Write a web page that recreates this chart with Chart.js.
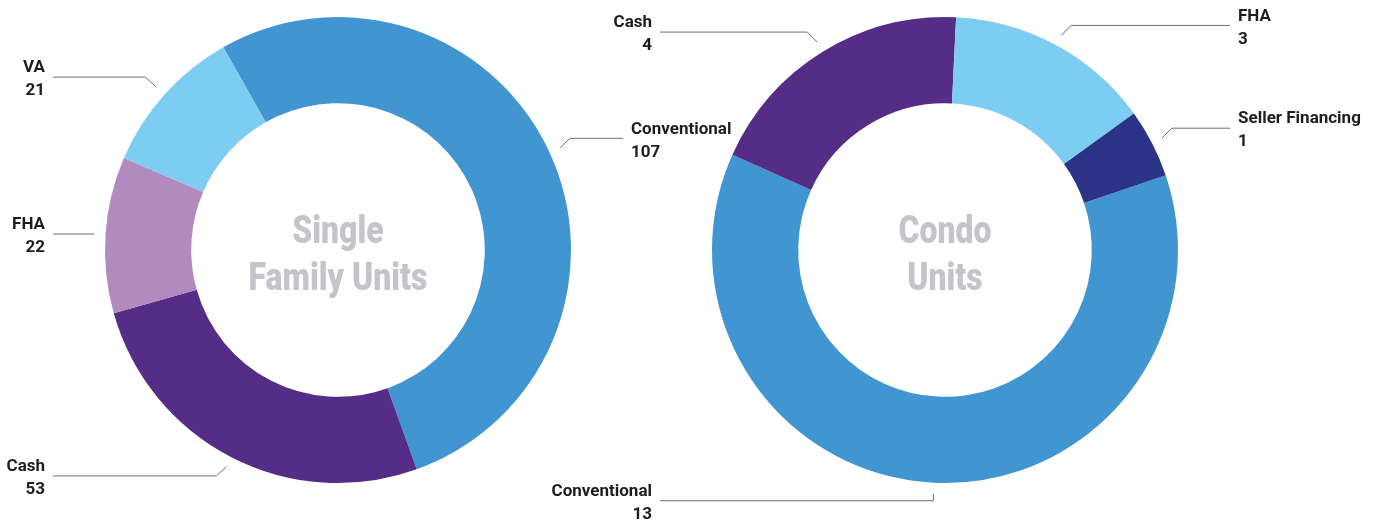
<!DOCTYPE html>
<html>
<head>
<meta charset="utf-8">
<script src="https://cdn.jsdelivr.net/npm/chart.js@4.4.1/dist/chart.umd.min.js"></script>
<style>
  html, body { margin: 0; padding: 0; background: #fff; }
  #wrap { position: relative; width: 1379px; height: 525px; }
  #wrap canvas { position: absolute; left: 0; top: 0; }
</style>
</head>
<body>
<div id="wrap">
  <canvas id="sfChart" width="1379" height="525"></canvas>
  <canvas id="condoChart" width="1379" height="525"></canvas>
</div>
<script>
// data
const sfLabels    = ['Conventional', 'Cash', 'FHA', 'VA'];
const sfValues    = [107, 53, 22, 21];
const condoLabels = ['Conventional', 'Cash', 'FHA', 'Seller Financing'];
const condoValues = [13, 4, 3, 1];

// colours
const sfColors    = ['#4196d2', '#552d87', '#b38abe', '#7dcdf2'];
const condoColors = ['#4196d2', '#552d87', '#7dcdf2', '#2b3386'];

// leader line styling per slice: side (-1 left / +1 right), elbow offset
const sfLeaders = [
  { side: 1,  dx: 10,  dy: -10 },
  { side: -1, dx: -10, dy: 9 },
  { side: -1, dx: 0,   dy: 0 },
  { side: -1, dx: -11, dy: -10 },
];
const condoLeaders = [
  { side: -1, dx: 0,   dy: 7 },
  { side: -1, dx: -10, dy: -10 },
  { side: 1,  dx: 10,  dy: -10 },
  { side: 1,  dx: 10,  dy: -10 },
];

const leaderPlugin = {
  id: 'leaders',
  afterDraw(chart, args, opts) {
    const ctx = chart.ctx;
    const meta = chart.getDatasetMeta(0);
    const labels = chart.data.labels;
    const values = chart.data.datasets[0].data;
    let cx = 0, cy = 0;
    ctx.save();
    meta.data.forEach((arc, i) => {
      const p = arc.getProps(['x', 'y', 'startAngle', 'endAngle', 'outerRadius'], true);
      cx = p.x; cy = p.y;
      const mid = (p.startAngle + p.endAngle) / 2;
      const r = p.outerRadius + 11;
      const sx = p.x + Math.cos(mid) * r;
      const sy = p.y + Math.sin(mid) * r;
      const l = opts.leaders[i];
      const ex = sx + l.dx, ey = sy + l.dy;
      const endX = p.x + l.side * 285;

      ctx.strokeStyle = '#6f6f6f';
      ctx.lineWidth = 1;
      ctx.beginPath();
      ctx.moveTo(sx, sy);
      ctx.lineTo(ex, ey);
      ctx.lineTo(endX, ey);
      ctx.stroke();

      ctx.fillStyle = '#1f1c1d';
      ctx.font = 'bold 17px Roboto';
      ctx.textBaseline = 'middle';
      ctx.textAlign = l.side < 0 ? 'right' : 'left';
      const tx = endX + l.side * 8;
      ctx.fillText(labels[i], tx, ey - 9);
      ctx.fillText(String(values[i]), tx, ey + 14);
    });

    // centre title, condensed by a horizontal squeeze
    ctx.fillStyle = '#c4c5ca';
    ctx.font = '900 38px Roboto';
    ctx.textAlign = 'center';
    ctx.textBaseline = 'alphabetic';
    ctx.translate(cx, cy);
    ctx.scale(0.84, 1);
    ctx.fillText(opts.title[0], 0, -7);
    ctx.fillText(opts.title[1], 0, 40);
    ctx.restore();
  }
};

function makeDonut(id, labels, values, colors, rotation, padding, leaders, title) {
  return new Chart(document.getElementById(id), {
    type: 'doughnut',
    data: {
      labels,
      datasets: [{
        data: values,
        backgroundColor: colors,
        borderWidth: 0,
        hoverOffset: 0,
        offset: 0,
      }]
    },
    options: {
      responsive: false,
      animation: false,
      events: [],
      rotation,
      cutout: '63%',
      layout: { padding },
      plugins: {
        legend: { display: false },
        tooltip: { enabled: false },
        leaders: { leaders, title }
      }
    },
    plugins: [leaderPlugin]
  });
}

makeDonut('sfChart', sfLabels, sfValues, sfColors, -29.5,
  { left: 105, right: 808, top: 17, bottom: 42 }, sfLeaders, ['Single', 'Family Units']);
makeDonut('condoChart', condoLabels, condoValues, condoColors, 71.3,
  { left: 712, right: 201, top: 17, bottom: 42 }, condoLeaders, ['Condo', 'Units']);
</script>
</body>
</html>
